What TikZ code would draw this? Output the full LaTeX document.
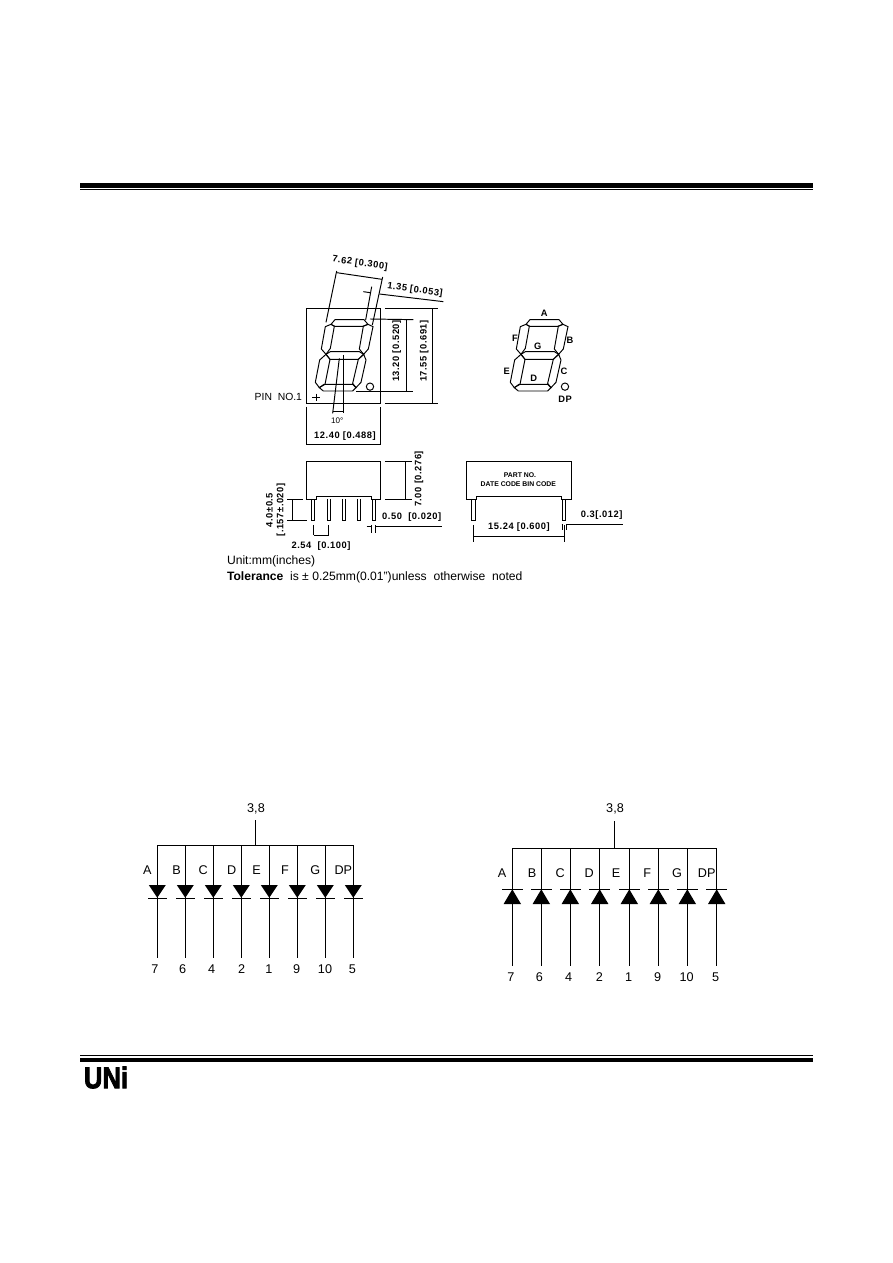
\documentclass[tikz,border=0pt]{standalone}
\usepackage{fontspec}
\setmainfont{Liberation Sans}
\newfontfamily\dimfont[LetterSpace=6]{Liberation Sans}
\newfontfamily\logofont[BoldFeatures={FakeBold=3}]{Liberation Sans}
\usetikzlibrary{positioning,calc}
\tikzset{
  wire/.style={line width=0.55pt},
  dimtext/.style={font=\dimfont\fontsize{5.3}{6}\selectfont\bfseries,inner sep=0pt},
  pintext/.style={font=\fontsize{7.2}{8}\selectfont,inner sep=0pt,text height=5.2pt,text depth=0pt},
  pinnote/.style={font=\fontsize{5.9}{7}\selectfont,inner sep=0pt},
  notetext/.style={font=\fontsize{6.9}{8}\selectfont,inner sep=0pt,anchor=west},
  parttext/.style={font=\fontsize{3.9}{4.5}\selectfont\bfseries,inner sep=0pt},
  diodefill/.style={fill=black,draw=none},
  zoomtop/.style={shift={(220,245)},x=0.006667cm,y=-0.006667cm},
  zoomside/.style={shift={(220,445)},x=0.006667cm,y=-0.006667cm},
  zoomright/.style={shift={(455,300)},x=0.006667cm,y=-0.006667cm}
}
% seven segments, in the units of zoomtop
\newcommand{\segdigit}{%
  \draw[wire] (333,238) -- (345,224) -- (432,224) -- (444,238) -- (428,244) -- (345,244) -- cycle;
  \draw[wire] (333,238) -- (343,244) -- (331,310) -- (318,328) -- (304,312) -- (316,245) -- cycle;
  \draw[wire] (444,238) -- (459,245) -- (445,312) -- (431,328) -- (418,312) -- (430,244) -- cycle;
  \draw[wire] (318,328) -- (331,320) -- (418,320) -- (431,328) -- (415,343) -- (330,343) -- cycle;
  \draw[wire] (318,328) -- (330,343) -- (315,418) -- (298,428) -- (286,412) -- (299,345) -- cycle;
  \draw[wire] (431,328) -- (438,345) -- (423,412) -- (408,428) -- (398,415) -- (415,343) -- cycle;
  \draw[wire] (298,428) -- (312,418) -- (398,418) -- (408,428) -- (398,438) -- (310,438) -- cycle;
  \draw[wire] (450,425) circle (11);
}
\begin{document}
\begin{tikzpicture}[x=0.02cm,y=-0.02cm]
  \useasboundingbox (0,0) rectangle (892,1263);
  % page rules
  \fill (80,183.3) rectangle (813,188.3);
  \fill (80,189.4) rectangle (813,190.2);
  \fill (80,1055) rectangle (813,1056.3);
  \fill (80,1058) rectangle (813,1062.3);
  \node[font=\logofont\fontsize{17}{18}\selectfont\bfseries,inner sep=0pt,xscale=0.86] (logo) at (106,1077.5) {UNi};
  % front view
  \begin{scope}[zoomtop]
    \draw[wire] (260,190) rectangle (482,475);
    \segdigit
    \draw[wire] (277,457) -- (299,457) (288,446) -- (288,468);
    \node[pinnote,anchor=east] (pinone) at (247,457) {PIN\ \ NO.1};
    % dimensions
    \draw[wire] (350,78) -- (318,232);
    \draw[wire] (488,96) -- (457,240);
    \draw[wire] (350,83) -- (486,103);
    \draw[wire] (455,125) -- (437,225);
    \draw[wire] (430,140) -- (450,143);
    \draw[wire] (478,147) -- (670,170);
    \draw[wire] (370,330) -- (370,505);
    \draw[wire] (358,340) -- (338,505);
    \draw[wire] (338,498) -- (370,498);
    \draw[wire] (450,222) -- (580,224);
    \draw[wire] (408,438) -- (580,438);
    \draw[wire] (560,224) -- (560,438);
    \draw[wire] (495,190) -- (655,190);
    \draw[wire] (495,475) -- (655,475);
    \draw[wire] (638,190) -- (638,475);
    \draw[wire] (260,485) -- (260,598) -- (482,598) -- (482,485);
    \node[dimtext,rotate=-8] (dimpitch) at (420,55) {7.62 [0.300]};
    \node[dimtext,rotate=-8] (dimseg) at (585,135) {1.35 [0.053]};
    \node[dimtext,rotate=90] (dimdigit) at (530,318) {13.20 [0.520]};
    \node[dimtext,rotate=90] (dimheight) at (613,318) {17.55 [0.691]};
    \node[dimtext] (dimwidth) at (375,573) {12.40 [0.488]};
    \node[dimtext,font=\fontsize{4.6}{5}\selectfont] (dimangle) at (352,528) {10°};
  \end{scope}
  % side view
  \begin{scope}[zoomside]
    \draw[wire] (260,162) -- (260,48) -- (482,48) -- (482,162) -- (455,162) -- (455,153) -- (290,153) -- (290,162) -- cycle;
    \foreach \xa/\xb in {274/284,322/330,367/376,412/421,457/467}{
      \draw[wire] (\xa,162) -- (\xa,226) -- (\xb,226) -- (\xb,162);
    }
    \draw[wire] (495,48) -- (575,48);
    \draw[wire] (495,162) -- (575,162);
    \draw[wire] (557,48) -- (557,162);
    \draw[wire] (202,163) -- (250,163);
    \draw[wire] (202,226) -- (262,226);
    \draw[wire] (218,163) -- (218,226);
    \draw[wire] (281,240) -- (281,270);
    \draw[wire] (326,240) -- (326,270);
    \draw[wire] (281,270) -- (326,270);
    \draw[wire] (455,240) -- (455,265);
    \draw[wire] (467,240) -- (467,265);
    \draw[wire] (440,243) -- (455,243);
    \draw[wire] (467,243) -- (665,243);
    \node[dimtext,rotate=90] (dimbody) at (597,102) {7.00 [0.276]};
    \node[dimtext,rotate=90] (dimpina) at (148,195) {4.0±0.5};
    \node[dimtext,rotate=90] (dimpinb) at (183,195) {[.157±.020]};
    \node[dimtext] (dimrow) at (303,302) {2.54\ \ [0.100]};
    \node[dimtext] (dimpin) at (575,217) {0.50\ \ [0.020]};
    \node[notetext] (unit) at (20,348) {Unit:mm(inches)};
    \node[notetext] (tol) at (20,398) {\textbf{Tolerance}\ \ is ± 0.25mm(0.01")unless\ \ otherwise\ \ noted};
  \end{scope}
  % pin map digit
  \begin{scope}[zoomtop,shift={(585,0)}]
    \segdigit
  \end{scope}
  % back view
  \begin{scope}[zoomright]
    \node[dimtext] (sega) at (268,40) {A};
    \node[dimtext] (segf) at (180,115) {F};
    \node[dimtext] (segg) at (248,140) {G};
    \node[dimtext] (segb) at (345,120) {B};
    \node[dimtext] (sege) at (155,213) {E};
    \node[dimtext] (segd) at (236,235) {D};
    \node[dimtext] (segc) at (327,215) {C};
    \node[dimtext] (segdp) at (330,298) {DP};
    \draw[wire] (34,597) -- (34,484) -- (350,484) -- (350,597) -- (320,597) -- (320,590) -- (65,590) -- (65,597) -- cycle;
    \draw[wire] (50,597) -- (50,660) -- (62,660) -- (62,597);
    \draw[wire] (322,597) -- (322,660) -- (332,660) -- (332,597);
    \draw[wire] (55,675) -- (55,725);
    \draw[wire] (328,675) -- (328,725);
    \draw[wire] (55,708) -- (328,708);
    \draw[wire] (320,672) -- (322,672) (322,672) -- (322,690);
    \draw[wire] (335,672) -- (335,690) (335,672) -- (505,672);
    \node[parttext] (partno) at (195,525) {PART NO.};
    \node[parttext] (datecode) at (190,552) {DATE CODE BIN CODE};
    \node[dimtext] (dimspan) at (192,682) {15.24 [0.600]};
    \node[dimtext] (dimlead) at (440,645) {0.3[.012]};
  \end{scope}
  % common cathode
  \coordinate (stemL) at (255.3,820);
  \coordinate (jointL) at (255.3,845);
  \node[pintext] (commonL) at (256,807.7) {3,8};
  \draw[wire] (stemL) -- (jointL);
  \foreach \i/\x/\lab/\lx/\pin/\px in {1/157.3/A/147.3/7/155,2/185.3/B/176.7/6/182.7,3/213.3/C/203.3/4/211.7,4/241.3/D/231.7/2/241.7,5/269.3/E/256.7/1/269,6/297.3/F/285/9/296.7,7/325.3/G/315.3/10/325,8/353.3/DP/343.3/5/352.3}{
    \coordinate (busL\i) at (\x,845);
    \coordinate (endL\i) at (\x,958.3);
    \node[pintext] (labL\i) at (\lx,870) {\lab};
    \node[pintext] (pinL\i) at (\px,969.3) {\pin};
    \draw[wire] (busL\i) -- (endL\i);
    \fill[diodefill] (\x-8.5,885) -- (\x+8.5,885) -- (\x,897.7) -- cycle;
    \draw[wire] (\x-9.3,898.3) -- (\x+9.3,898.3);
  }
  \draw[wire] (busL1) -- (busL8);
  % common anode
  \coordinate (stemR) at (614.3,821);
  \coordinate (jointR) at (614.3,848.3);
  \node[pintext] (commonR) at (615,808.3) {3,8};
  \draw[wire] (stemR) -- (jointR);
  \foreach \i/\x/\lab/\lx/\pin/\px in {1/512.3/A/502/7/511,2/541.3/B/532/6/539.3,3/570.3/C/560.3/4/568.7,4/599.7/D/589.3/2/599.3,5/629.3/E/616/1/628.7,6/658.3/F/647.3/9/657.7,7/687.3/G/677/10/686.7,8/716.7/DP/706.7/5/715.7}{
    \coordinate (busR\i) at (\x,848.3);
    \coordinate (endR\i) at (\x,966);
    \node[pintext] (labR\i) at (\lx,873.3) {\lab};
    \node[pintext] (pinR\i) at (\px,976.7) {\pin};
    \draw[wire] (busR\i) -- (endR\i);
    \fill[diodefill] (\x-8.7,904) -- (\x+8.7,904) -- (\x,889.3) -- cycle;
    \draw[wire] (\x-10.3,889.3) -- (\x+10.3,889.3);
  }
  \draw[wire] (busR1) -- (busR8);
\end{tikzpicture}
\end{document}
